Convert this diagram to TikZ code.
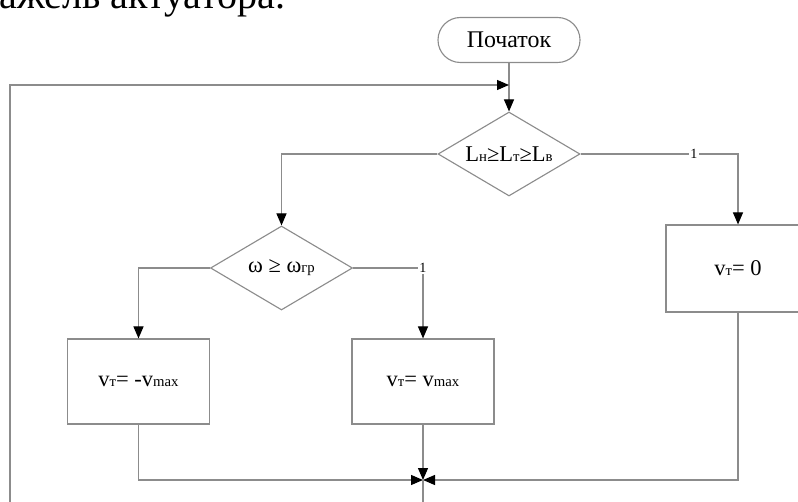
\documentclass[tikz,border=0pt]{standalone}
\usepackage{fontspec}
\setmainfont{Liberation Serif}
\usetikzlibrary{shapes.geometric,arrows.meta}

\tikzset{
	line/.style={draw=black!45, line width=0.8pt},
	arr/.style={line, -{Triangle[black,length=0.3cm,width=0.25cm]}},
	terminal/.style={line, rectangle, rounded corners=0.56cm, minimum width=3.55cm, minimum height=1.125cm, inner sep=0pt},
	decision/.style={line, diamond, aspect=1.7, minimum width=3.55cm, minimum height=2.1cm, inner sep=0pt},
	block/.style={line, rectangle, minimum width=3.55cm, minimum height=2.125cm, inner sep=0pt},
	lbl/.style={fill=white, inner sep=1pt, font=\fontsize{10}{10}\selectfont},
}
\newcommand{\idx}[1]{{\fontsize{10.5}{10.5}\selectfont #1}}

\begin{document}
\begin{tikzpicture}[font=\fontsize{16}{19}\selectfont]
		\useasboundingbox (0,0) rectangle (19.95,12.525);
		\clip (0,0) rectangle (19.95,12.525);
		% line of text above the chart
		\node[anchor=base west, inner sep=0pt, font=\fontsize{28.5}{34}\selectfont] (caption) at (-0.48,12.3) {важель актуатора.};
		
		% blocks
		\node[terminal, font=\fontsize{17}{20}\selectfont] (start) at (12.725,11.525) {Початок};
		\node[decision] (cond1) at (12.725,8.675) {L\idx{н}≥L\idx{т}≥L\idx{в}};
		\node[decision] (cond2) at (7.0375,5.825) {ω ≥ ω\idx{гр}};
		\node[block, minimum width=3.6cm, minimum height=2.175cm] (zero) at (18.45,5.8125) {v\idx{т}= 0};
		\node[block] (minus) at (3.4625,2.9875) {v\idx{т}= -v\idx{max}};
		\node[block] (plus) at (10.575,2.9875) {v\idx{т}= v\idx{max}};
		
		\coordinate (loop) at (12.725,10.4);
		\coordinate (merge) at (10.575,0.525);
		\coordinate (exit) at (10.575,-0.5);
		\coordinate (back) at (0.25,10.4);
		
		% connectors
		\draw[line] (start) -- (loop);
		\draw[arr] (loop) -- (cond1);
		\draw[arr] (cond1.east) -| (zero.north) node[lbl, pos=0.36] {1};
		\draw[arr] (cond1.west) -| (cond2.north);
		\draw[arr] (cond2.east) -| (plus.north) node[lbl, pos=0.5] {1};
		\draw[arr] (cond2.west) -| (minus.north);
		\draw[arr] (minus.south) |- (merge);
		\draw[arr] (plus.south) -- (merge);
		\draw[arr] (zero.south) |- (merge);
		\draw[arr] (merge) -- (exit) -| (back) -- (loop);
	\end{tikzpicture}
\end{document}
